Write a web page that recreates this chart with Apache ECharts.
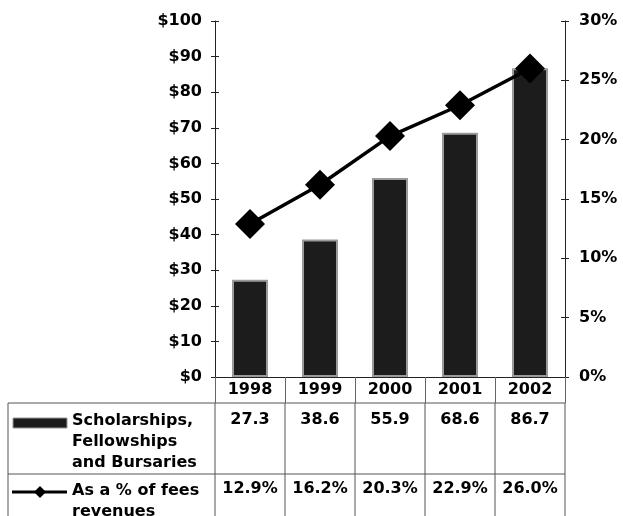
<!DOCTYPE html>
<html>
<head>
<meta charset="utf-8">
<script src="https://cdn.jsdelivr.net/npm/echarts@6/dist/echarts.min.js"></script>
<style>
html,body{margin:0;padding:0;background:#fff;}
#chart{width:623px;height:516px;}
</style>
</head>
<body>
<div id="chart"></div>
<script>
const categories = ['1998', '1999', '2000', '2001', '2002'];
const scholarships = [27.3, 38.6, 55.9, 68.6, 86.7];
const pctFees = [12.9, 16.2, 20.3, 22.9, 26.0];
const rowLabels = [
  ['Scholarships,', 'Fellowships', 'and Bursaries'],
  ['As a % of fees', 'revenues']
];
const seriesNames = ['Scholarships, Fellowships and Bursaries', 'As a % of fees revenues'];

const FONT = '"DejaVu Sans", Verdana, sans-serif';
const chart = echarts.init(document.getElementById('chart'), null, {renderer: 'canvas'});

const tickAxis = (min, max, interval, position) => ({
  type: 'value', min, max, interval, position,
  axisLine: {show: false},
  axisTick: {show: true, inside: true, length: 4, lineStyle: {color: '#222'}},
  splitLine: {show: false},
  axisLabel: {show: false}
});

const option = {
  animation: false,
  backgroundColor: '#fff',
  grid: {left: 215, right: 58, top: 21, bottom: 139, containLabel: false},
  xAxis: {
    type: 'category',
    data: categories,
    axisLine: {show: true, lineStyle: {color: '#222', width: 1}},
    axisTick: {show: true, alignWithLabel: false, length: 26, lineStyle: {color: '#666', width: 1}},
    axisLabel: {margin: 5, color: '#000', fontFamily: FONT, fontWeight: 'bold', fontSize: 16}
  },
  yAxis: [
    {
      type: 'value', min: 0, max: 100, interval: 10, position: 'left',
      axisLine: {show: true, lineStyle: {color: '#222'}},
      axisTick: {show: true, length: 4, lineStyle: {color: '#222'}},
      splitLine: {show: false},
      axisLabel: {margin: 13, color: '#000', fontFamily: FONT, fontWeight: 'bold', fontSize: 16,
        formatter: v => '$' + v}
    },
    {
      type: 'value', min: 0, max: 30, interval: 5, position: 'right',
      axisLine: {show: true, lineStyle: {color: '#222'}},
      axisTick: {show: true, length: 4, lineStyle: {color: '#222'}},
      splitLine: {show: false},
      axisLabel: {margin: 14, color: '#000', fontFamily: FONT, fontWeight: 'bold', fontSize: 16,
        formatter: v => v + '%'}
    },
    tickAxis(0, 100, 10, 'left'),
    tickAxis(0, 30, 5, 'right')
  ],
  series: [
    {
      name: seriesNames[0], type: 'bar', data: scholarships, yAxisIndex: 0,
      barWidth: 36,
      itemStyle: {color: '#1c1c1c', borderColor: '#9a9a9a', borderWidth: 2}
    },
    {
      name: seriesNames[1], type: 'line', data: pctFees, yAxisIndex: 1,
      symbol: 'diamond', symbolSize: 30,
      lineStyle: {color: '#000', width: 3.5},
      itemStyle: {color: '#000'},
      z: 5
    }
  ]
};
chart.setOption(option);

function buildTable() {
  const els = [];
  const lineStyle = {stroke: '#555', lineWidth: 1};
  const n = categories.length;
  const step = chart.convertToPixel({xAxisIndex: 0}, 1) - chart.convertToPixel({xAxisIndex: 0}, 0);
  const left = chart.convertToPixel({xAxisIndex: 0}, 0) - step / 2;
  const right = left + step * n;
  const tableLeft = 8, rowTop = 403, rowMid = 474, bottom = 520;
  [rowTop, rowMid].forEach(y => els.push({type: 'line', shape: {x1: tableLeft, y1: y, x2: right, y2: y}, style: lineStyle, silent: true}));
  els.push({type: 'line', shape: {x1: tableLeft, y1: rowTop, x2: tableLeft, y2: bottom}, style: lineStyle});
  for (let i = 0; i <= n; i++) {
    const x = left + step * i;
    els.push({type: 'line', shape: {x1: x, y1: rowTop, x2: x, y2: bottom}, style: lineStyle});
  }
  const txt = (text, x, y, align) => ({
    type: 'text', style: {text, x, y, align: align || 'center', verticalAlign: 'middle',
      font: 'bold 16px ' + FONT, fill: '#000'}
  });
  for (let i = 0; i < n; i++) {
    const cx = chart.convertToPixel({xAxisIndex: 0}, i);
    els.push(txt(scholarships[i].toFixed(1), cx, 420));
    els.push(txt(pctFees[i].toFixed(1) + '%', cx, 489));
  }
  rowLabels[0].forEach((t, k) => els.push(txt(t, 72, 421 + k * 21, 'left')));
  rowLabels[1].forEach((t, k) => els.push(txt(t, 72, 491 + k * 21, 'left')));
  els.push({type: 'rect', shape: {x: 13, y: 418, width: 54, height: 10}, style: {fill: '#1c1c1c', stroke: '#9a9a9a', lineWidth: 1}});
  els.push({type: 'line', shape: {x1: 12, y1: 492, x2: 67, y2: 492}, style: {stroke: '#000', lineWidth: 3}});
  els.push({type: 'polygon', shape: {points: [[40, 486], [46, 492], [40, 498], [34, 492]]}, style: {fill: '#000'}});
  chart.setOption({graphic: {elements: els}});
}
buildTable();
</script>
</body>
</html>
